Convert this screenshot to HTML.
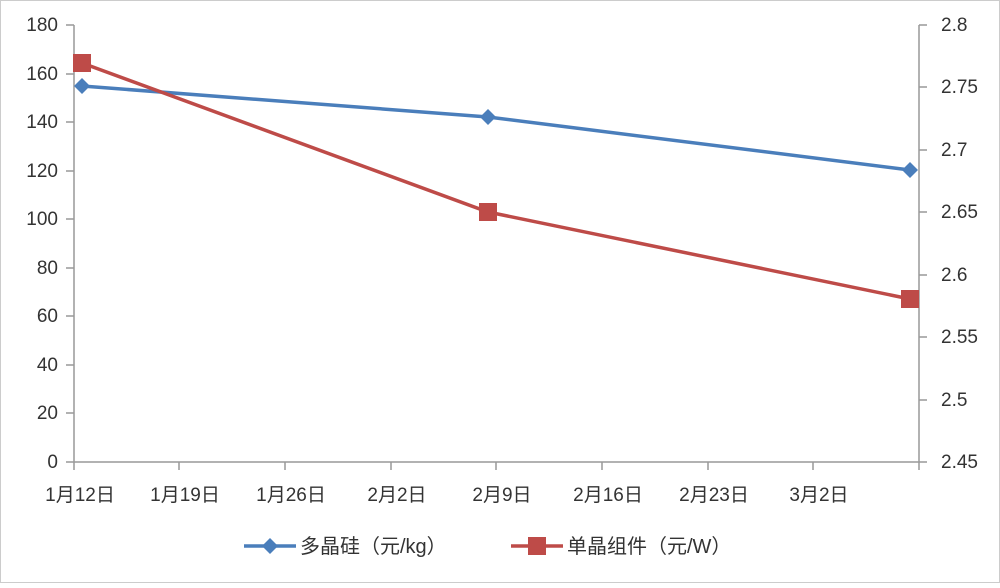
<!DOCTYPE html>
<html><head><meta charset="utf-8"><style>
body{margin:0;background:#fff;}
svg text{font-family:"Liberation Sans","Noto Sans CJK SC",sans-serif;font-size:19px;fill:#333;}
</style></head><body>
<svg width="1000" height="583" xmlns="http://www.w3.org/2000/svg">
<rect x="0.5" y="0.5" width="999" height="582" fill="#fff" stroke="#ccc"/>
<g stroke="#999" stroke-width="1.5" fill="none">
<line x1="74" y1="25" x2="74" y2="462"/>
<line x1="919" y1="25" x2="919" y2="462"/>
<line x1="66" y1="462" x2="919" y2="462"/>
</g>
<g stroke="#999" stroke-width="1.5">
<line x1="66" y1="25" x2="74" y2="25"/><line x1="66" y1="74" x2="74" y2="74"/><line x1="66" y1="122" x2="74" y2="122"/><line x1="66" y1="171" x2="74" y2="171"/><line x1="66" y1="219" x2="74" y2="219"/><line x1="66" y1="268" x2="74" y2="268"/><line x1="66" y1="316" x2="74" y2="316"/><line x1="66" y1="365" x2="74" y2="365"/><line x1="66" y1="413" x2="74" y2="413"/>
<line x1="919" y1="25" x2="927" y2="25"/><line x1="919" y1="87" x2="927" y2="87"/><line x1="919" y1="150" x2="927" y2="150"/><line x1="919" y1="212" x2="927" y2="212"/><line x1="919" y1="275" x2="927" y2="275"/><line x1="919" y1="337" x2="927" y2="337"/><line x1="919" y1="400" x2="927" y2="400"/><line x1="919" y1="462" x2="927" y2="462"/>
<line x1="74" y1="462" x2="74" y2="470"/><line x1="179" y1="462" x2="179" y2="470"/><line x1="285" y1="462" x2="285" y2="470"/><line x1="391" y1="462" x2="391" y2="470"/><line x1="496" y1="462" x2="496" y2="470"/><line x1="602" y1="462" x2="602" y2="470"/><line x1="708" y1="462" x2="708" y2="470"/><line x1="813" y1="462" x2="813" y2="470"/><line x1="919" y1="462" x2="919" y2="470"/>
</g>
<g text-anchor="end">
<text x="58" y="31">180</text><text x="58" y="80">160</text><text x="58" y="128">140</text><text x="58" y="177">120</text><text x="58" y="225">100</text><text x="58" y="274">80</text><text x="58" y="322">60</text><text x="58" y="371">40</text><text x="58" y="419">20</text><text x="58" y="468">0</text>
</g>
<g>
<text x="941" y="31">2.8</text><text x="941" y="93">2.75</text><text x="941" y="156">2.7</text><text x="941" y="218">2.65</text><text x="941" y="281">2.6</text><text x="941" y="343">2.55</text><text x="941" y="406">2.5</text><text x="941" y="468">2.45</text>
</g>
<g text-anchor="middle" style="font-size:20px">
<text x="80" y="501">1月12日</text><text x="185" y="501">1月19日</text><text x="291" y="501">1月26日</text><text x="397" y="501">2月2日</text><text x="502" y="501">2月9日</text><text x="608" y="501">2月16日</text><text x="714" y="501">2月23日</text><text x="819" y="501">3月2日</text>
</g>
<polyline points="82,86 488,117 910,170" fill="none" stroke="#4a7ebb" stroke-width="3.5"/>
<g fill="#4a7ebb">
<polygon points="82,78 90,86 82,94 74,86"/><polygon points="488,109 496,117 488,125 480,117"/><polygon points="910,162 918,170 910,178 902,170"/>
</g>
<polyline points="82,63 488,212 910,299" fill="none" stroke="#be4b48" stroke-width="3.5"/>
<g fill="#be4b48">
<rect x="73" y="54" width="18" height="18"/><rect x="479" y="203" width="18" height="18"/><rect x="901" y="290" width="18" height="18"/>
</g>
<line x1="244" y1="546" x2="296" y2="546" stroke="#4a7ebb" stroke-width="3.5"/>
<polygon points="270,538 278,546 270,554 262,546" fill="#4a7ebb"/>
<text x="300" y="553" style="font-size:20px">多晶硅（元/kg）</text>
<line x1="511" y1="546" x2="563" y2="546" stroke="#be4b48" stroke-width="3.5"/>
<rect x="528" y="537" width="18" height="18" fill="#be4b48"/>
<text x="567" y="553" style="font-size:20px">单晶组件（元/W）</text>
</svg>
</body></html>
